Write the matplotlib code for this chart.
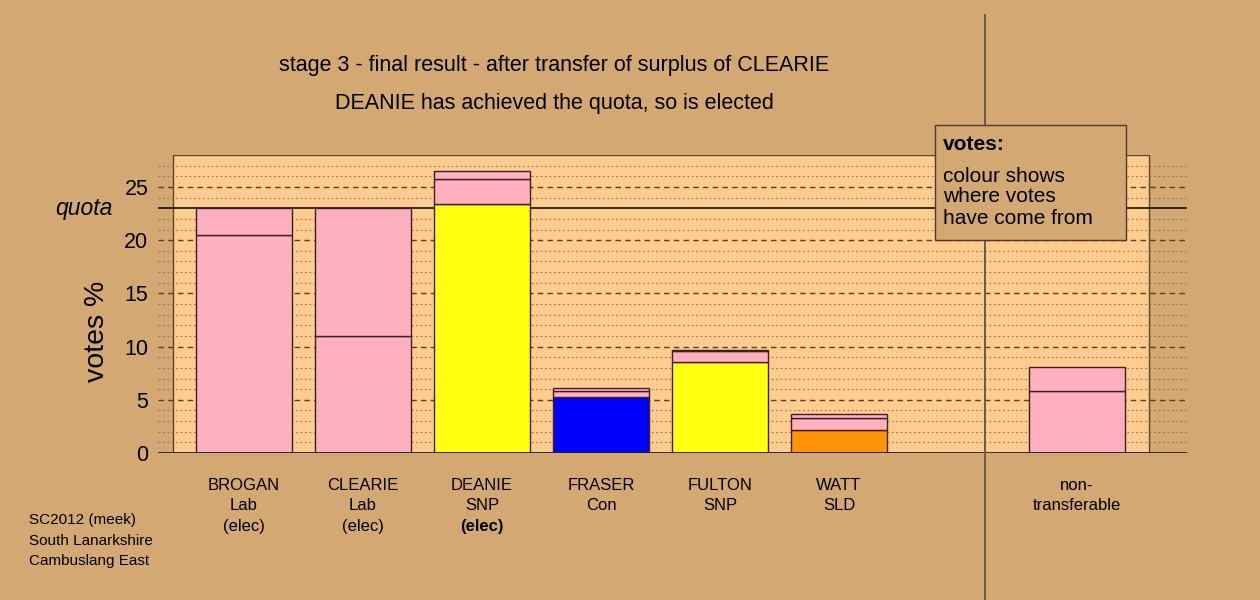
import matplotlib
matplotlib.use("Agg")
import matplotlib.pyplot as plt
from matplotlib.patches import Rectangle
from matplotlib.lines import Line2D
from matplotlib.transforms import blended_transform_factory

plt.rcParams['font.family'] = ['Liberation Sans', 'DejaVu Sans']

# candidates (slot 6 is left empty, slot 7 is non-transferable)
names = ["BROGAN", "CLEARIE", "DEANIE", "FRASER", "FULTON", "WATT", "non-"]
parties = ["Lab", "Lab", "SNP", "Con", "SNP", "SLD", "transferable"]
status = ["(elec)", "(elec)", "(elec)", "", "", "", ""]
slots = [0, 1, 2, 3, 4, 5, 7]

# vote segments per bar (stage 1, transfer 1, transfer 2), in %
segments = [
    [20.5, 2.5],
    [11.0, 12.0],
    [23.4, 2.32, 0.75],
    [5.23, 0.63, 0.22],
    [8.58, 0.97, 0.15],
    [2.16, 1.10, 0.37],
    [5.80, 2.31],
]
seg_colours = [
    ["#FFB0C0", "#FFB0C0"],
    ["#FFB0C0", "#FFB0C0"],
    ["#FFFF10", "#FFB0C0", "#FFB0C0"],
    ["#0000FF", "#FFB0C0", "#FFB0C0"],
    ["#FFFF10", "#FFB0C0", "#FFB0C0"],
    ["#FF9408", "#FFB0C0", "#FFB0C0"],
    ["#FFB0C0", "#FFB0C0"],
]
quota = 23.0
yticks = [0, 5, 10, 15, 20, 25]

bg = "#D3A873"
peach = "#FFCC8F"

fig = plt.figure(figsize=(12.6, 6), dpi=100, facecolor=bg)
ax = fig.add_axes([158 / 1260, 1 - 453 / 600, (1187 - 158) / 1260, (453 - 155) / 600])
ax.set_facecolor("none")
for s in ax.spines.values():
    s.set_visible(False)

ax.set_xlim(-0.7227, 7.924)
ax.set_ylim(0, 28)

# plot panel
ax.add_patch(Rectangle((-0.597, 0), 8.202, 28, facecolor=peach,
                       edgecolor="#5a4530", lw=1, zorder=0))

# grid lines
for v in range(1, 28):
    if v % 5 == 0:
        ax.axhline(v, color="#5a4020", lw=1, ls=(0, (4, 3)), zorder=1)
    elif v != quota:
        ax.axhline(v, color="#8a7458", lw=0.8, ls=(0, (1.5, 2.5)), zorder=1)
ax.axhline(0, color="#222222", lw=1.3, zorder=4)
ax.axhline(quota, color="#111111", lw=1.2, zorder=2)

# bars
for x, segs, cols in zip(slots, segments, seg_colours):
    bottom = 0
    for h, c in zip(segs, cols):
        ax.bar(x, h, bottom=bottom, width=0.8, color=c,
               edgecolor="#3a2020", linewidth=1, zorder=3)
        bottom += h

# divider
trans_v = blended_transform_factory(ax.transData, fig.transFigure)
ax.add_line(Line2D([6.227, 6.227], [1 - 15 / 600, 0], transform=trans_v,
                   color="#6e5a48", lw=1.4, clip_on=False, zorder=5))

# y axis
ax.set_yticks(yticks)
ax.set_yticklabels([str(t) for t in yticks], fontsize=15.5)
ax.tick_params(axis="y", length=0, pad=7)
ax.set_xticks([])
trans_y = blended_transform_factory(fig.transFigure, ax.transData)
ax.text(113 / 1260, quota, "quota", transform=trans_y, fontsize=16.5,
        style="italic", ha="right", va="center")
fig.text(97 / 1260, 1 - 331 / 600, "votes %", rotation=90, fontsize=20.5,
         ha="center", va="center")

# x labels
for x, n, p, st in zip(slots, names, parties, status):
    ax.text(x, 1 - 485 / 600, n, transform=trans_v, fontsize=12,
            ha="center", va="center")
    ax.text(x, 1 - 506 / 600, p, transform=trans_v, fontsize=12,
            ha="center", va="center")
    if st:
        ax.text(x, 1 - 526 / 600, st, transform=trans_v, fontsize=12,
                ha="center", va="center",
                fontweight="bold" if n == "DEANIE" else "normal")

# titles
fig.text(554 / 1260, 1 - 65 / 600, "stage 3 - final result - after transfer of surplus of CLEARIE",
         fontsize=15.5, ha="center", va="center")
fig.text(554 / 1260, 1 - 103 / 600, "DEANIE has achieved the quota, so is elected",
         fontsize=15.5, ha="center", va="center")

# legend box
fig.patches.append(Rectangle((935 / 1260, 1 - 240 / 600), 191 / 1260, 115 / 600,
                             transform=fig.transFigure, facecolor=bg,
                             edgecolor="#4a3a2a", lw=1, zorder=10))
fig.text(943 / 1260, 1 - 145 / 600, "votes:", fontsize=15, fontweight="bold",
         ha="left", va="center", zorder=11)
for yy, line in zip([176, 197, 218], ["colour shows", "where votes", "have come from"]):
    fig.text(943 / 1260, 1 - yy / 600, line, fontsize=15, ha="left",
             va="center", zorder=11)

# source note
for yy, line in zip([520, 541, 561], ["SC2012 (meek)", "South Lanarkshire", "Cambuslang East"]):
    fig.text(29 / 1260, 1 - yy / 600, line, fontsize=11, ha="left", va="center")

fig.savefig("out.png", dpi=100, facecolor=bg)
